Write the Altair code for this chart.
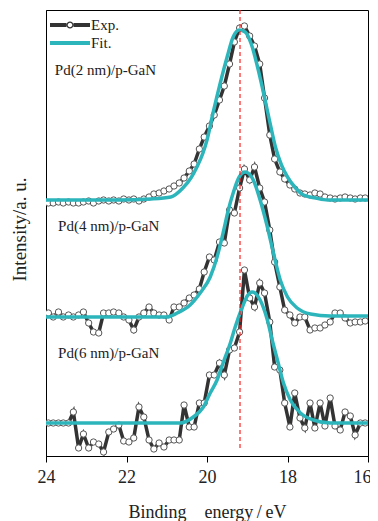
import altair as alt
import pandas as pd

# ---------------- data ----------------
energies = [23.94, 23.82, 23.69, 23.57, 23.44, 23.32, 23.19, 23.07, 22.94, 22.82,
            22.69, 22.57, 22.44, 22.32, 22.19, 22.07, 21.94, 21.82, 21.69, 21.57,
            21.44, 21.32, 21.19, 21.07, 20.94, 20.82, 20.69, 20.57, 20.44, 20.32,
            20.19, 20.07, 19.94, 19.82, 19.69, 19.57, 19.44, 19.32, 19.19, 19.07,
            18.94, 18.82, 18.69, 18.57, 18.44, 18.32, 18.19, 18.07, 17.94, 17.82,
            17.69, 17.57, 17.44, 17.32, 17.19, 17.07, 16.94, 16.82, 16.69, 16.57,
            16.44, 16.32, 16.19, 16.07]

exp_2nm = [253, 253, 254, 253, 254, 253, 253, 254, 255, 253,
           255, 256, 255, 256, 255, 257, 256, 257, 255, 257,
           259, 262, 263, 265, 267, 270, 273, 278, 285, 292,
           307, 319, 330, 341, 356, 370, 392, 414, 428, 430,
           420, 410, 392, 358, 321, 297, 284, 277, 271, 267,
           263, 262, 261, 263, 262, 259, 258, 257, 258, 259,
           258, 257, 258, 258]

exp_4nm = [143, 139, 144, 139, 141, 139, 141, 144, 133, 124,
           123, 143, 143, 144, 143, 139, 136, 126, 139, 143,
           149, 143, 141, 141, 136, 149, 149, 153, 158, 161,
           167, 184, 199, 196, 214, 213, 246, 243, 268, 287,
           276, 289, 268, 254, 226, 194, 169, 146, 141, 133,
           139, 139, 126, 128, 128, 131, 134, 143, 143, 138,
           133, 134, 134, 135]

exp_6nm = [33, 33, 33, 33, 33, 44, 8, 22, 8, 14,
           12, 4, 24, 27, 31, 15, 14, 18, 49, 39,
           16, 7, 13, 9, 16, 16, 16, 51, 29, 29,
           53, 53, 81, 81, 93, 81, 106, 108, 124, 186,
           158, 149, 173, 163, 134, 89, 86, 53, 29, 63,
           38, 28, 53, 28, 53, 30, 58, 30, 26, 44,
           40, 21, 33, 33]

fit_2nm_e = [24.0, 22.2, 21.4, 20.9, 20.6, 20.4, 20.25, 20.1, 20.0, 19.85, 19.67, 19.5,
             19.35, 19.2, 19.05, 18.9, 18.75, 18.6, 18.45, 18.3, 18.15, 18.0, 17.8,
             17.6, 17.3, 17.0, 16.0]
fit_2nm_i = [256, 256, 257, 259, 268, 278, 289, 303, 316, 343, 373, 399,
             419, 426, 424, 412, 390, 364, 336, 309, 291, 279, 268,
             261, 258, 256, 256]

fit_4nm_e = [24.0, 21.0, 20.74, 20.42, 20.17, 19.92, 19.75, 19.6, 19.47, 19.35, 19.2,
             19.05, 18.95, 18.85, 18.68, 18.5, 18.35, 18.18, 18.0, 17.76, 17.43, 16.94, 16.0]
fit_4nm_i = [139, 139, 143, 151, 163, 179, 199, 223, 246, 263, 279,
             284, 282, 276, 256, 229, 203, 176, 159, 148, 142, 140, 140]

fit_6nm_e = [24.0, 20.67, 20.34, 20.09, 19.92, 19.75, 19.6, 19.42, 19.3, 19.12, 19.0,
             18.88, 18.78, 18.68, 18.5, 18.38, 18.25, 18.1, 17.93, 17.68, 17.36, 16.94, 16.0]
fit_6nm_i = [33, 33, 39, 49, 63, 76, 93, 113, 129, 149, 160,
             164, 162, 156, 136, 116, 96, 73, 56, 43, 36, 33, 33]

spectra = ["2 nm", "4 nm", "6 nm"]
labels = ["Pd(2 nm)/p-GaN", "Pd(4 nm)/p-GaN", "Pd(6 nm)/p-GaN"]
label_e = [23.78, 23.70, 23.70]
label_i = [386, 230, 103]
ref_energy = 19.18
legend_names = ["Exp.", "Fit."]
x_ticks = [24, 22, 20, 18, 16]

# ---------------- tables ----------------
exp_rows = []
for name, vals in zip(spectra, [exp_2nm, exp_4nm, exp_6nm]):
    for e, v in zip(energies, vals):
        exp_rows.append({"spectrum": name, "E": e, "I": v})
exp_df = pd.DataFrame(exp_rows)

fit_rows = []
for name, es, vs in zip(spectra, [fit_2nm_e, fit_4nm_e, fit_6nm_e],
                        [fit_2nm_i, fit_4nm_i, fit_6nm_i]):
    for e, v in zip(es, vs):
        fit_rows.append({"spectrum": name, "E": e, "I": v})
fit_df = pd.DataFrame(fit_rows)

label_df = pd.DataFrame({"label": labels, "E": label_e, "I": label_i})
rule_df = pd.DataFrame({"E": [ref_energy]})
legend_df = pd.DataFrame({"series": legend_names, "E": [30, 30], "I": [600, 600]})

# ---------------- styling ----------------
FONT = "Liberation Serif"
DARK = "#333333"
TEAL = "#2db5bc"

# legend glyphs (unit = sqrt(size)/2 px); drawn from x=-1 to x=3 around the symbol centre
exp_path = ("M-1,-0.2L0.65,-0.2L0.65,0.2L-1,0.2Z "
            "M1.35,-0.2L3,-0.2L3,0.2L1.35,0.2Z "
            "M0.65,0A0.35,0.35 0 1 0 1.35,0A0.35,0.35 0 1 0 0.65,0Z "
            "M0.77,0A0.23,0.23 0 1 1 1.23,0A0.23,0.23 0 1 1 0.77,0Z")
fit_path = "M-1,-0.19L3,-0.19L3,0.19L-1,0.19Z"

x_enc = alt.X("E:Q",
              scale=alt.Scale(domain=[24, 16], nice=False),
              axis=alt.Axis(values=x_ticks, format="d",
                            title="Binding\u2003energy\u2009/\u2009eV",
                            titleFontSize=18, titleY=61, titleBaseline="alphabetic",
                            labelFontSize=18, labelPadding=6, tickSize=6,
                            labelFlush=False,
                            labelOffset={"condition": {"test": "datum.value == 16",
                                                       "value": -6},
                                         "value": 0}))
y_enc = alt.Y("I:Q",
              scale=alt.Scale(domain=[0, 446], nice=False),
              axis=alt.Axis(labels=False, ticks=False, title="Intensity/a. u.",
                            titleFontSize=19, titleX=-21, titleY=219,
                            titleBaseline="alphabetic"))

exp_line = alt.Chart(exp_df).mark_line(color=DARK, strokeWidth=3.5, clip=True).encode(
    x=x_enc, y=y_enc, detail="spectrum:N")

exp_pts = alt.Chart(exp_df).mark_point(shape="circle", filled=True, fill="white",
                                       stroke="#555555", strokeWidth=1, size=40,
                                       opacity=1, clip=True).encode(
    x=x_enc, y=y_enc, detail="spectrum:N")

fit_line = alt.Chart(fit_df).mark_line(color=TEAL, strokeWidth=3.5,
                                       interpolate="monotone", clip=True).encode(
    x=x_enc, y=y_enc, detail="spectrum:N")

ref_rule = alt.Chart(rule_df).mark_rule(color="#ff2020", strokeDash=[4, 3],
                                        strokeWidth=1.2).encode(
    x=x_enc, y=alt.value(0), y2=alt.value(440))

texts = alt.Chart(label_df).mark_text(align="left", baseline="middle", font=FONT,
                                      fontSize=15, color="#222222").encode(
    x=x_enc, y=y_enc, text="label:N")

leg = alt.Legend(orient="none", legendX=4, legendY=5, title=None,
                 labelFont=FONT, labelFontSize=15, labelColor="#222222",
                 labelOffset=21, padding=0, rowPadding=0, symbolSize=400,
                 symbolStrokeWidth=0)

legend_layer = alt.Chart(legend_df).mark_point(filled=True, opacity=1, size=400,
                                               strokeWidth=0, clip=True).encode(
    x=x_enc, y=y_enc,
    color=alt.Color("series:N", scale=alt.Scale(domain=legend_names, range=[DARK, TEAL]),
                    legend=leg),
    shape=alt.Shape("series:N", scale=alt.Scale(domain=legend_names,
                                                range=[exp_path, fit_path]),
                    legend=leg))

chart = alt.layer(exp_line, exp_pts, fit_line, ref_rule, texts, legend_layer).properties(
    width=322, height=446,
    padding={"left": 38, "top": 2, "right": 2, "bottom": 65},
    autosize=alt.AutoSizeParams(type="none"),
    background="white",
).configure_view(stroke="black", strokeWidth=1).configure_axis(
    grid=False, domainColor="black", tickColor="black", labelFont=FONT, titleFont=FONT,
    labelColor="#222222", titleColor="#222222", titleFontWeight="normal")

chart.save("out.html", embed_options={"renderer": "svg", "actions": False})
